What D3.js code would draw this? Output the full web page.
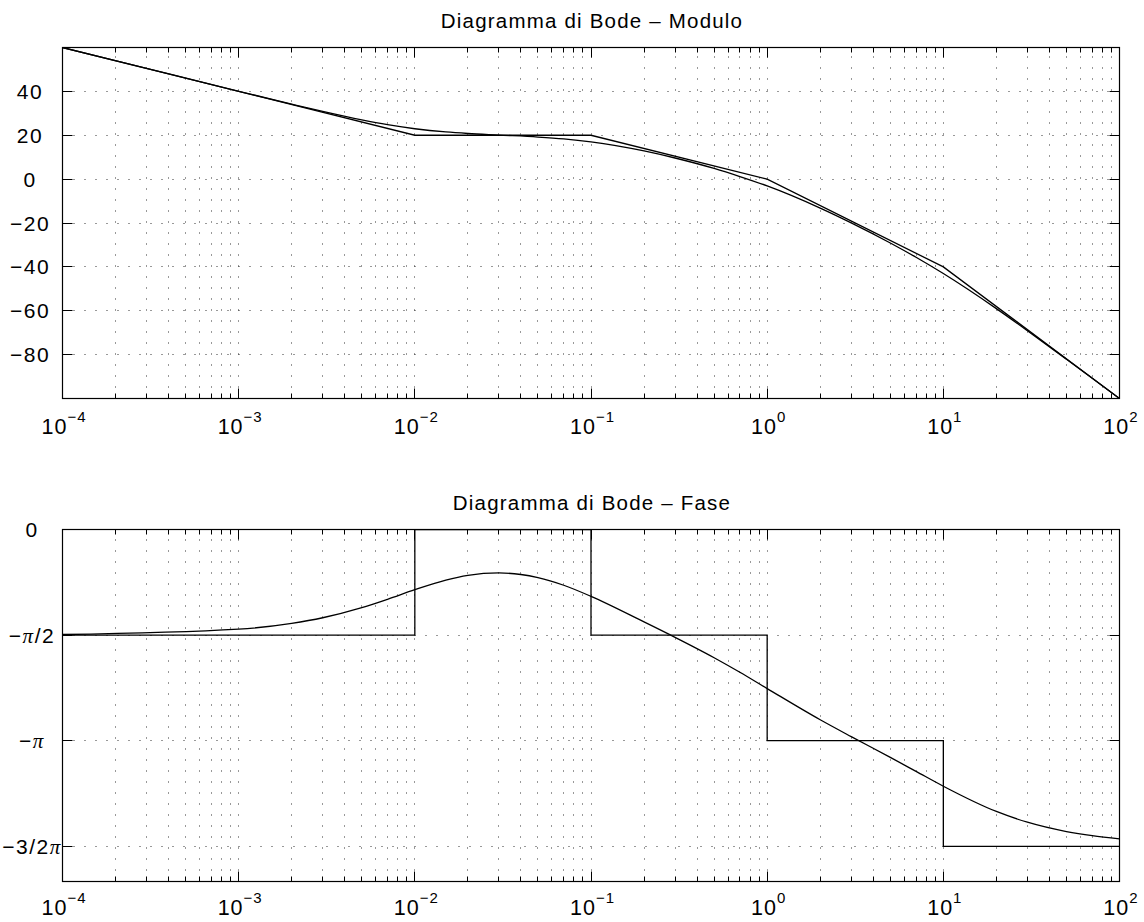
<!DOCTYPE html>
<html>
<head>
<meta charset="utf-8">
<script src="https://cdn.jsdelivr.net/npm/d3@7/dist/d3.min.js"></script>
<style>
  body { margin: 0; background: #fff; }
  svg { display: block; font-family: "Liberation Sans", Arial, Helvetica, sans-serif; }
</style>
</head>
<body>
<script>
// frequenze (rad/s) e modulo reale in dB
const magFreq = [1e-4, 3e-4, 1e-3, 2e-3, 3e-3, 5e-3, 7e-3, 1e-2, 1.5e-2, 2e-2, 3e-2, 5e-2, 7e-2,
  0.1, 0.2, 0.3, 0.5, 0.7, 1, 2, 3, 5, 7, 10, 20, 30, 50, 70, 100];
const magDb = [60.0, 50.46, 40.04, 34.15, 30.83, 26.98, 24.81, 22.97, 21.50, 20.80, 20.08, 19.19, 18.34,
  16.99, 12.85, 9.63, 4.86, 1.16, -3.09, -13.19, -19.93, -29.10, -35.62, -43.05, -59.04, -69.09, -82.11, -90.79, -100.04];
// diagramma asintotico del modulo
const magAsymFreq = [1e-4, 1e-2, 1e-1, 1, 10, 100];
const magAsymDb = [60, 20, 20, 0, -40, -100];

// fase reale in gradi
const phaseFreq = [1e-4, 1e-3, 2e-3, 3e-3, 5e-3, 7e-3, 1e-2, 1.5e-2, 2e-2, 3e-2, 4e-2, 5e-2, 7e-2,
  0.1, 0.2, 0.3, 0.5, 0.7, 1, 2, 3, 5, 7, 10, 20, 30, 50, 70, 100];
const phaseDeg = [-89.49, -84.93, -79.96, -75.21, -66.61, -59.46, -51.34, -43.17, -39.14, -37.02, -38.36, -41.03, -47.52,
  -56.99, -78.75, -91.90, -109.27, -121.68, -135.57, -162.17, -176.55, -194.22, -206.12, -218.78, -240.31, -249.49, -257.44, -260.98, -263.67];
// diagramma asintotico della fase
const phaseAsymFreq = [1e-4, 1e-2, 1e-2, 1e-1, 1e-1, 1, 1, 10, 10, 100];
const phaseAsymDeg = [-90, -90, 0, 0, -90, -90, -180, -180, -270, -270];

const magTicks = [40, 20, 0, -20, -40, -60, -80];
const magTickLabels = ['40', '20', '0', '\u221220', '\u221240', '\u221260', '\u221280'];
const phaseTicks = [0, -90, -180, -270];
const phaseTickLabels = [['0', ''], ['\u2212', 'π', '/2'], ['\u2212', 'π', ''], ['\u22123/2', 'π', '']];
const xExponents = ['\u22124', '\u22123', '\u22122', '\u22121', '0', '1', '2'];

const width = 1144, height = 922;
const left = 62.5, right = 1119.5;

const svg = d3.select('body').append('svg')
  .attr('width', width)
  .attr('height', height);

const x = d3.scaleLog().domain([1e-4, 1e2]).range([left, right]);
const allTicks = x.ticks();
const isMajor = d => Math.abs(Math.log10(d) - Math.round(Math.log10(d))) < 1e-6;
const px = v => Math.round(v - 0.5) + 0.5;

function panel(opts) {
  const y = d3.scaleLinear().domain(opts.domain).range([opts.bottom, opts.top]);
  const g = svg.append('g');

  g.append('clipPath').attr('id', opts.id)
    .append('rect')
    .attr('x', left).attr('y', opts.top)
    .attr('width', right - left).attr('height', opts.bottom - opts.top);

  // griglia a puntini
  const grid = g.append('g')
    .attr('stroke', '#333')
    .attr('stroke-width', 1)
    .attr('stroke-dasharray', '1,10');
  grid.selectAll('line.v')
    .data(allTicks.filter(d => d > 1e-4 * 1.001 && d < 1e2 * 0.999))
    .enter().append('line')
    .attr('class', 'v')
    .attr('x1', d => px(x(d))).attr('x2', d => px(x(d)))
    .attr('y1', opts.bottom).attr('y2', opts.top);
  grid.selectAll('line.h')
    .data(opts.ticks.filter(d => px(y(d)) > opts.top + 1 && px(y(d)) < opts.bottom - 1))
    .enter().append('line')
    .attr('class', 'h')
    .attr('x1', left).attr('x2', right)
    .attr('y1', d => px(y(d))).attr('y2', d => px(y(d)));

  // curve
  const line = d3.line()
    .x(d => x(d[0]))
    .y(d => y(d[1]));
  const curves = g.append('g').attr('clip-path', `url(#${opts.id})`)
    .attr('fill', 'none').attr('stroke', '#000').attr('stroke-width', 1.3);
  curves.append('path')
    .attr('d', line(d3.zip(opts.asymFreq, opts.asymVal)));
  curves.append('path')
    .attr('d', line.curve(d3.curveMonotoneX)(d3.zip(opts.freq, opts.val)));

  // tacche
  const ticks = g.append('g').attr('stroke', '#000').attr('stroke-width', 1);
  ticks.selectAll('line.xb')
    .data(allTicks)
    .enter().append('line')
    .attr('x1', d => px(x(d))).attr('x2', d => px(x(d)))
    .attr('y1', opts.bottom).attr('y2', d => opts.bottom - (isMajor(d) ? 10 : 5));
  ticks.selectAll('line.xt')
    .data(allTicks)
    .enter().append('line')
    .attr('x1', d => px(x(d))).attr('x2', d => px(x(d)))
    .attr('y1', opts.top).attr('y2', d => opts.top + (isMajor(d) ? 10 : 5));
  ticks.selectAll('line.yl')
    .data(opts.ticks)
    .enter().append('line')
    .attr('x1', left).attr('x2', left + 10)
    .attr('y1', d => px(y(d))).attr('y2', d => px(y(d)));
  ticks.selectAll('line.yr')
    .data(opts.ticks)
    .enter().append('line')
    .attr('x1', right).attr('x2', right - 10)
    .attr('y1', d => px(y(d))).attr('y2', d => px(y(d)));

  // cornice
  g.append('rect')
    .attr('x', left).attr('y', opts.top)
    .attr('width', right - left).attr('height', opts.bottom - opts.top)
    .attr('fill', 'none').attr('stroke', '#000').attr('stroke-width', 1.2);

  // etichette asse x
  const xl = g.selectAll('text.xl')
    .data(xExponents)
    .enter().append('text')
    .attr('text-anchor', 'middle')
    .attr('x', (d, i) => x(Math.pow(10, i - 4)) + 1.5)
    .attr('y', opts.bottom + opts.xLabelOffset)
    .attr('font-size', 21.5)
    .attr('letter-spacing', 1);
  xl.append('tspan').text('10');
  xl.append('tspan').attr('dy', -12.5).attr('font-size', 15).text(d => d);

  // etichette asse y
  const yl = g.selectAll('text.yl')
    .data(opts.ticks)
    .enter().append('text')
    .attr('text-anchor', 'middle')
    .attr('x', opts.yLabelX)
    .attr('y', d => y(d) + 7.5)
    .attr('font-size', 21)
    .attr('letter-spacing', 1.5);
  opts.fillLabel(yl);

  // titolo
  g.append('text')
    .attr('x', (left + right) / 2 + 1)
    .attr('y', opts.titleY)
    .attr('text-anchor', 'middle')
    .attr('font-size', 20.5)
    .attr('letter-spacing', 1.2)
    .text(opts.title);
}

panel({
  id: 'clip-mod',
  top: 47.5, bottom: 398.5,
  domain: [-100, 60],
  ticks: magTicks,
  freq: magFreq, val: magDb,
  asymFreq: magAsymFreq, asymVal: magAsymDb,
  xLabelOffset: 35.5,
  yLabelX: 30,
  titleY: 28,
  title: 'Diagramma di Bode \u2013 Modulo',
  fillLabel: sel => sel.text((d, i) => magTickLabels[i])
});

panel({
  id: 'clip-fase',
  top: 529.5, bottom: 881.5,
  domain: [-300, 0],
  ticks: phaseTicks,
  freq: phaseFreq, val: phaseDeg,
  asymFreq: phaseAsymFreq, asymVal: phaseAsymDeg,
  xLabelOffset: 33.5,
  yLabelX: 32,
  titleY: 510,
  title: 'Diagramma di Bode \u2013 Fase',
  fillLabel: sel => {
    sel.each(function(d, i) {
      const parts = phaseTickLabels[i];
      const t = d3.select(this);
      t.append('tspan').text(parts[0]);
      if (parts[1]) {
        t.append('tspan').attr('font-family', '"Liberation Serif", "DejaVu Serif", serif')
          .attr('font-style', 'italic').text(parts[1]);
      }
      if (parts[2]) t.append('tspan').text(parts[2]);
    });
  }
});
</script>
</body>
</html>
